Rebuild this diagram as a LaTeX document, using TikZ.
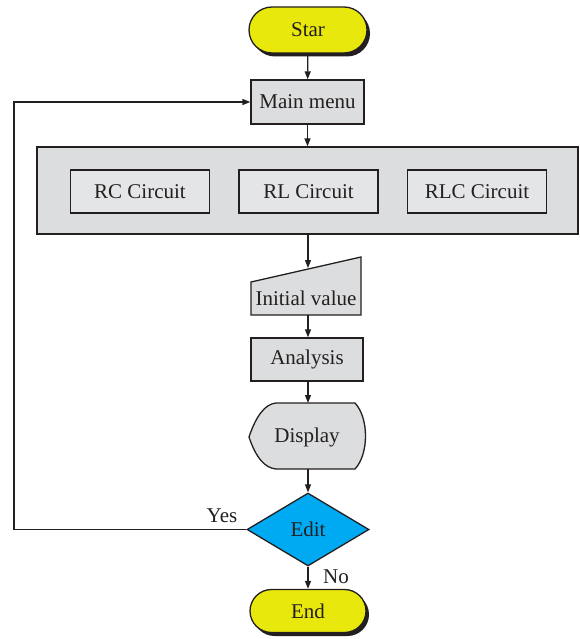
\documentclass[tikz,border=0pt]{standalone}
\usepackage{fontspec}
\setmainfont{Liberation Serif}
\usetikzlibrary{arrows.meta,shapes.geometric,shadows}
\definecolor{ink}{HTML}{231F20}
\definecolor{boxgray}{HTML}{DCDDDE}
\definecolor{innergray}{HTML}{E4E5E6}
\definecolor{termyellow}{HTML}{E8E80C}
\definecolor{decblue}{HTML}{00AAF2}
\tikzset{
  every node/.style={font=\fontsize{21}{25}\selectfont, text=ink},
  line/.style={draw=ink, line width=1.3pt},
  flow/.style={line, -{Triangle[length=8pt,width=6pt]}},
  procbox/.style={rectangle, line, fill=boxgray, inner sep=0pt},
  subbox/.style={rectangle, line, fill=innergray, inner sep=0pt,
    minimum width=139pt, minimum height=43pt},
  terminal/.style={rectangle, line, fill=termyellow, inner sep=0pt,
    drop shadow={shadow xshift=3pt, shadow yshift=-3.5pt, opacity=1, fill=ink}},
  decision/.style={diamond, line, fill=decblue, inner sep=0pt},
  lbl/.style={inner sep=0pt}
}
\begin{document}
\begin{tikzpicture}[x=1pt, y=-1pt]
  \useasboundingbox (0,0) rectangle (579,639);

  % terminals
  \node[terminal, minimum width=118pt, minimum height=46pt, rounded corners=23pt] (start) at (308,30) {Star};
  \node[terminal, minimum width=116pt, minimum height=43pt, rounded corners=21.5pt] (stop) at (308,611) {End};

  % main menu and circuit selection
  \node[procbox, minimum width=113pt, minimum height=44pt] (main) at (307.5,102) {Main menu};
  \node[procbox, minimum width=541pt, minimum height=87pt] (select) at (307.5,190.5) {};
  \node[subbox] (rc) at (140,191.5) {RC Circuit};
  \node[subbox] (rl) at (308.5,191.5) {RL Circuit};
  \node[subbox] (rlc) at (477,191.5) {RLC Circuit};

  % manual input: initial value
  \filldraw[line, fill=boxgray] (251,315) -- (361,315) -- (361,257) -- (251,282) -- cycle;
  \node[lbl] (init) at (306,298) {Initial value};
  \coordinate (initTop) at (308,268);
  \coordinate (initBot) at (308,315);

  % analysis
  \node[procbox, minimum width=112pt, minimum height=43pt] (anal) at (307,359.5) {Analysis};

  % display symbol
  \filldraw[line, fill=boxgray] (249,437) .. controls (256,416) and (265,404) .. (276,403)
    -- (355,403) .. controls (369,418) and (369,454) .. (355,469)
    -- (276,469) .. controls (265,468) and (256,458) .. (249,437) -- cycle;
  \node[lbl] (disp) at (307,437) {Display};
  \coordinate (dispTop) at (308,403);
  \coordinate (dispBot) at (308,469);

  % decision
  \node[decision, minimum width=122pt, minimum height=73pt] (edit) at (308,529.5) {Edit};

  % connectors
  \draw[flow] (start) -- (main);
  \draw[flow] (main) -- (select);
  \draw[flow] (select.south -| initTop) -- (initTop);
  \draw[flow] (initBot) -- (anal.north -| initBot);
  \draw[flow] (anal.south -| dispTop) -- (dispTop);
  \draw[flow] (dispBot) -- (edit.north);
  \draw[flow] (edit.south) -- (stop.north);
  \coordinate (loopx) at (14,0);
  \draw[flow] (edit.west) -- (edit.west -| loopx) |- (main.west);

  % branch labels
  \node[lbl] (yes) at (222,516) {Yes};
  \node[lbl] (no) at (336,577) {No};
\end{tikzpicture}
\end{document}
